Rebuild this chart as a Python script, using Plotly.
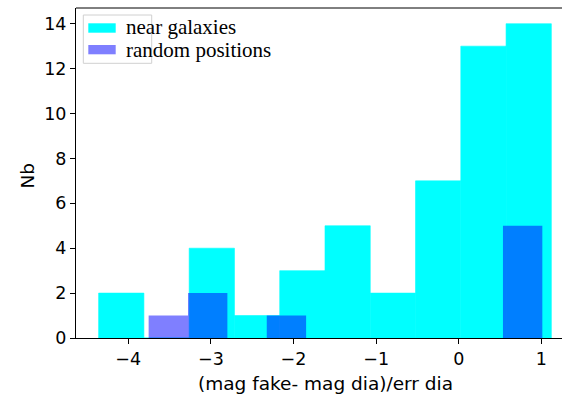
import plotly.graph_objects as go

# Histogram data
near_counts = [2, 0, 4, 1, 3, 5, 2, 7, 13, 14]
near_start = -4.358
near_width = 0.5478

rand_counts = [1, 2, 0, 1, 0, 0, 0, 0, 0, 5]
rand_start = -3.753
rand_width = 0.4764

x_ticks = [-4, -3, -2, -1, 0, 1]
y_ticks = [0, 2, 4, 6, 8, 10, 12, 14]

near_centers = [near_start + near_width * (i + 0.5) for i in range(len(near_counts))]
rand_centers = [rand_start + rand_width * (i + 0.5) for i in range(len(rand_counts))]

W, H = 562, 394
L, R, T, B = 76, 0, 8, 56
pw, ph = W - L - R, H - T - B


def px(x):
    return (x - L) / pw


def py(y):
    return 1 - (y - T) / ph


fig = go.Figure()
fig.add_trace(go.Bar(x=near_centers, y=near_counts, width=near_width,
                     marker=dict(color="#00ffff", line=dict(width=0.6, color="#00ffff")),
                     name="near galaxies", showlegend=False))
fig.add_trace(go.Bar(x=rand_centers, y=rand_counts, width=rand_width,
                     marker=dict(color="rgba(0,0,255,0.5)", line=dict(width=0)),
                     name="random positions", showlegend=False))

tickfont = dict(family="DejaVu Sans", size=17.5, color="#000")
fig.update_layout(
    width=W, height=H,
    margin=dict(l=L, r=R, t=T, b=B, pad=0),
    paper_bgcolor="white", plot_bgcolor="white",
    barmode="overlay",
    xaxis=dict(range=[-4.632, 1.249], tickvals=x_ticks, showgrid=False, zeroline=False,
               showline=True, linecolor="#000", linewidth=1, ticks="outside", ticklen=5,
               tickcolor="#000", tickfont=tickfont),
    yaxis=dict(range=[0, 14.7], tickvals=y_ticks, showgrid=False, zeroline=False,
               showline=True, linecolor="#000", linewidth=1, ticks="outside", ticklen=5,
               tickcolor="#000", tickfont=tickfont),
    font=dict(family="DejaVu Sans"),
)

shapes = []
# top spine
shapes.append(dict(type="line", xref="paper", yref="paper", x0=0, x1=1, y0=1, y1=1,
                   line=dict(color="#000", width=1)))
# legend frame
shapes.append(dict(type="rect", xref="paper", yref="paper", x0=px(83.3), x1=px(151.7),
                   y0=py(63.3), y1=py(15), fillcolor="rgba(255,255,255,0.8)",
                   line=dict(color="#d0d0d0", width=1)))
shapes.append(dict(type="rect", xref="paper", yref="paper", x0=px(88.3), x1=px(115.7),
                   y0=py(32.7), y1=py(23.3), fillcolor="#00ffff", line=dict(width=0)))
shapes.append(dict(type="rect", xref="paper", yref="paper", x0=px(88.3), x1=px(115.7),
                   y0=py(54.3), y1=py(45), fillcolor="rgba(0,0,255,0.5)", line=dict(width=0)))
fig.update_layout(shapes=shapes)

legfont = dict(family="Liberation Serif", size=21, color="#000")
fig.add_annotation(text="near galaxies", xref="paper", yref="paper", x=px(124), y=py(27.5),
                   xanchor="left", yanchor="middle", showarrow=False, font=legfont)
fig.add_annotation(text="random positions", xref="paper", yref="paper", x=px(124), y=py(50),
                   xanchor="left", yanchor="middle", showarrow=False, font=legfont)

labfont = dict(family="DejaVu Sans", size=18.5, color="#000")
fig.add_annotation(text="(mag fake- mag dia)/err dia", xref="paper", yref="paper",
                   x=px(325), y=py(383), xanchor="center", yanchor="middle",
                   showarrow=False, font=labfont)
fig.add_annotation(text="Nb", xref="paper", yref="paper", x=px(27), y=py(175.5),
                   xanchor="center", yanchor="middle", textangle=-90,
                   showarrow=False, font=labfont)

fig.write_html("out.html")
